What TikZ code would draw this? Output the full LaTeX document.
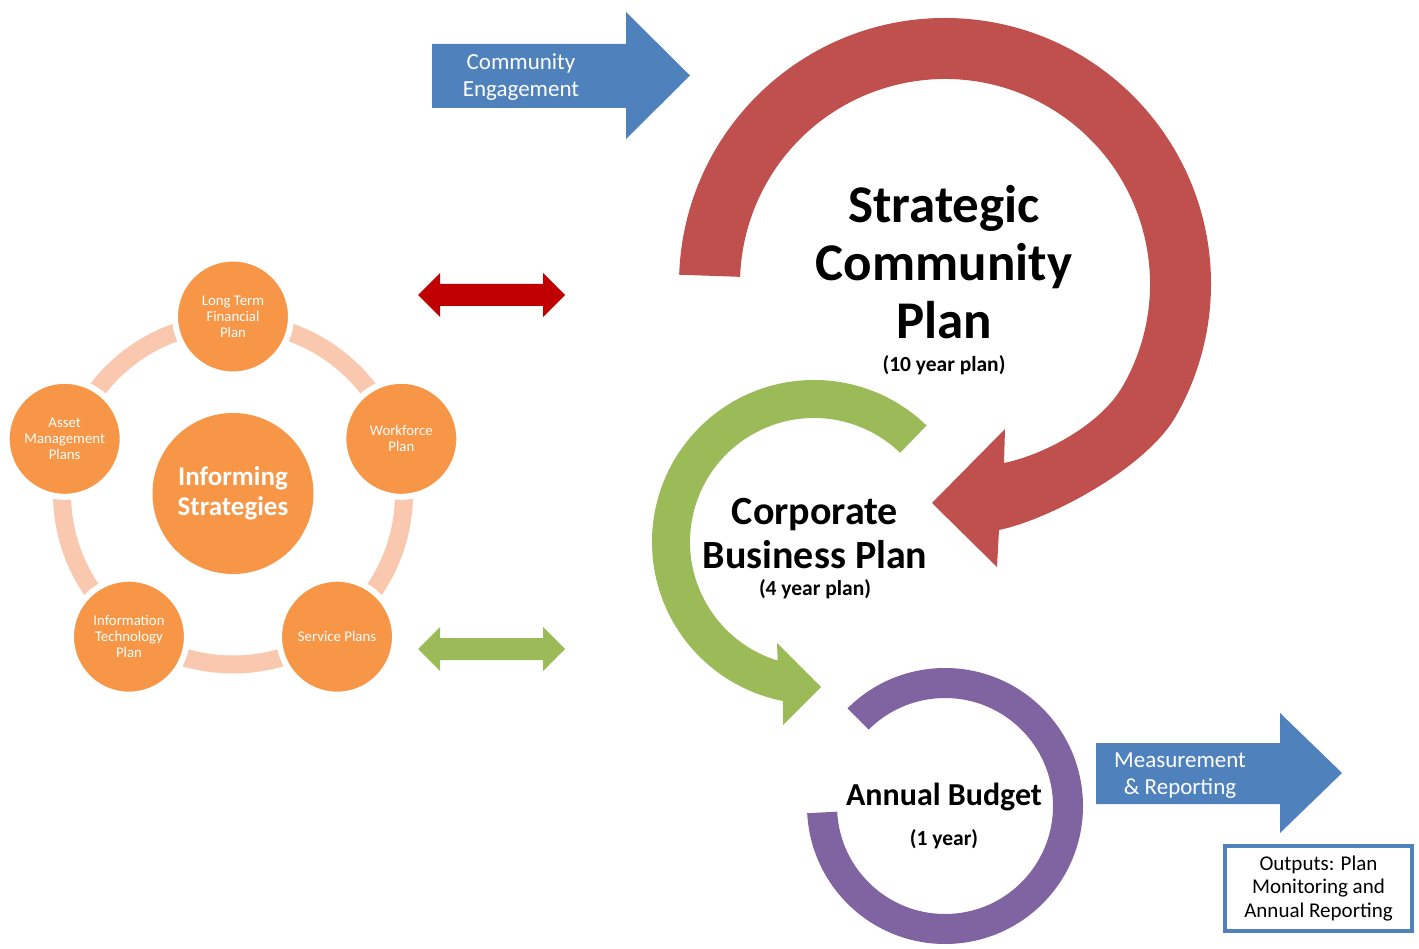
\documentclass[tikz,border=0pt]{standalone}
\usepackage{fontspec}
\setmainfont{Carlito}
\usepackage{tikz}
\usetikzlibrary{calc}
\definecolor{scpred}{HTML}{C0504D}
\definecolor{cbpgreen}{HTML}{9BBB59}
\definecolor{abpurple}{HTML}{8064A2}
\definecolor{flowblue}{HTML}{4F81BD}
\definecolor{infoorange}{HTML}{F79646}
\definecolor{ringpeach}{HTML}{FAC8AE}
\definecolor{linkred}{HTML}{C00000}
\tikzset{
   plan node/.style={circle,fill=infoorange,draw=white,line width=6pt,minimum size=116pt,inner sep=0pt,
                     align=center,text=white,font=\fontsize{14.8}{16}\selectfont},
   hub node/.style={circle,fill=infoorange,minimum size=161pt,inner sep=0pt,
                    align=center,text=white,font=\bfseries\fontsize{27}{30}\selectfont},
   flow text/.style={align=center,text=white,inner sep=0pt,font=\fontsize{23}{27}\selectfont},
   title text/.style args={#1/#2}{align=center,inner sep=0pt,font=\bfseries\fontsize{#1}{#2}\selectfont},
   sub text/.style={inner sep=0pt,font=\bfseries\fontsize{21.5}{24}\selectfont}
}

\begin{document}
\begin{tikzpicture}[x=1pt,y=-1pt]
\fill[white] (0,0) rectangle (1419,949);
\useasboundingbox (0,0) rectangle (1419,949);
\coordinate (scp) at (945,284);
\coordinate (cbp) at (814,542);
\coordinate (ab)  at (945,806);
%
% the three planning cycles
\fill[scpred] ($(scp)+(182:266)$) arc[start angle=182, end angle=390, radius=266]
   .. controls (1145,469) and (1048,520) .. (999,530)
   -- (997,567) -- (932,503) -- (1005,429) -- (1004,463)
   .. controls (1043,455) and (1100,425.5) .. ($(scp)+(30:205)$)
   arc[start angle=30, end angle=-178, radius=205] -- cycle;
\fill[cbpgreen] ($(cbp)+(-46:162)$) arc[start angle=-46, end angle=-259, radius=162]
   -- (783,725) -- (821,687) -- (777,643) -- ($(cbp)+(-253:124)$)
   arc[start angle=-253, end angle=-46, radius=124] -- cycle;
\fill[abpurple] ($(ab)+(225:138)$) arc[start angle=225, end angle=537, radius=138]
   -- ($(ab)+(537:108)$) arc[start angle=537, end angle=225, radius=108] -- cycle;
%
\node[title text=53/58] (scptitle) at (944,262.5) {Strategic\\Community\\Plan};
\node[sub text] (scpsub) at (944,365) {(10 year plan)};
\node[title text=40/44] (cbptitle) at (815,534) {Corporate\\Business Plan};
\node[sub text] (cbpsub) at (815,589) {(4 year plan)};
\node[title text=32/36] (abtitle) at (944,797) {Annual Budget};
\node[sub text] (absub) at (944,839) {(1 year)};
%
% in and out flows
\fill[flowblue] (432,44) -- (626,44) -- (626,12) -- (690,75.5) -- (626,139) -- (626,108) -- (432,108) -- cycle;
\node[flow text] (engage) at (521,77.5) {Community\\Engagement};
\fill[flowblue] (1096,743) -- (1280,743) -- (1280,713) -- (1342,773) -- (1280,833) -- (1280,804) -- (1096,804) -- cycle;
\node[flow text] (measure) at (1180,776) {Measurement\\\& Reporting};
\node[draw=flowblue,line width=4pt,fill=white,minimum width=187pt,minimum height=85pt,inner sep=0pt,
      align=center,font=\fontsize{21}{23.5}\selectfont] (outputs) at (1318.5,888.5)
      {Outputs: Plan\\Monitoring and\\Annual Reporting};
%
% two way links
\foreach \yy/\cc in {295/linkred,649/cbpgreen}
  \fill[\cc] (418,\yy) -- (440,\yy-22) -- (440,\yy-11) -- (543,\yy-11) -- (543,\yy-22) -- (565,\yy)
     -- (543,\yy+22) -- (543,\yy+11) -- (440,\yy+11) -- (440,\yy+22) -- cycle;
%
% informing strategies
\node[hub node] (hub) at (233,493.5) {Informing\\Strategies};
\draw[ringpeach,line width=18pt] (hub) circle[radius=171];
\foreach \ang/\name/\txt in {-90/ltfp/{Long Term\\Financial\\Plan}, -18/wfp/{Workforce\\Plan},
                             54/svp/{Service Plans}, 126/itp/{Information\\Technology\\Plan},
                             198/amp/{Asset\\Management\\Plans}}
  \node[plan node] (\name) at ($(hub)+(\ang:177)$) {\txt};
\end{tikzpicture}
\end{document}
